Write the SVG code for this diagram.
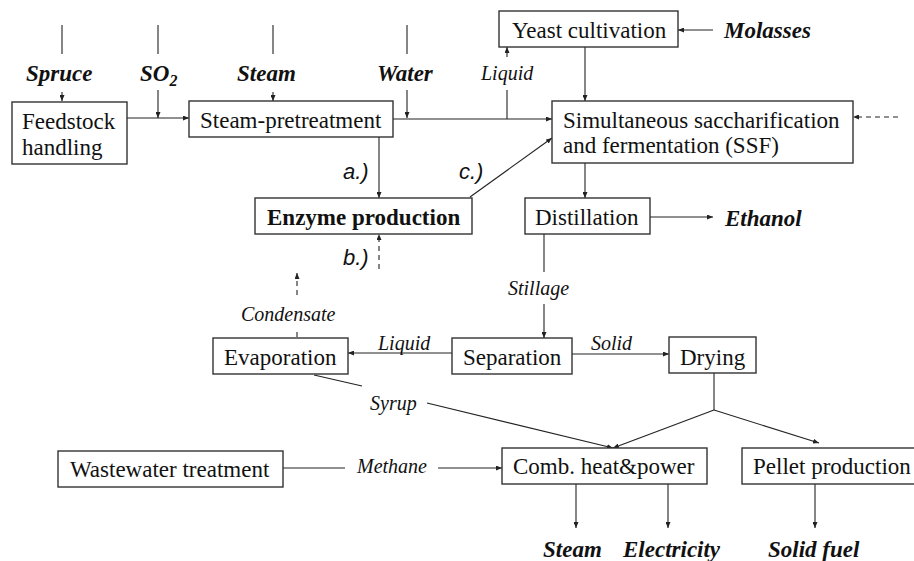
<svg xmlns="http://www.w3.org/2000/svg" width="914" height="561" viewBox="0 0 914 561">
<style>
.box{fill:#fff;stroke:#333;stroke-width:1.4}
.t{font-family:"Liberation Serif","Times New Roman",serif;font-size:23px;fill:#111}
.tb{font-family:"Liberation Serif","Times New Roman",serif;font-size:23px;font-weight:bold;fill:#111}
.bi{font-family:"Liberation Serif","Times New Roman",serif;font-size:23px;font-weight:bold;font-style:italic;fill:#111}
.it{font-family:"Liberation Serif","Times New Roman",serif;font-size:20px;font-style:italic;fill:#111}
.si{font-family:"Liberation Sans",Arial,sans-serif;font-size:22px;font-style:italic;fill:#111}
.c{fill:none;stroke:#222;stroke-width:1.1}
.a{marker-end:url(#ah)}
.d{stroke-dasharray:5,4}
</style>
<defs>
<marker id="ah" markerUnits="userSpaceOnUse" markerWidth="6" markerHeight="5" refX="6" refY="2.5" orient="auto">
<path d="M0,0 L6,2.5 L0,5 z" fill="#222"/>
</marker>
</defs>
<g id="connectors">
<line class="c" x1="62" y1="25" x2="62" y2="54"/>
<line class="c a" x1="62" y1="92" x2="62" y2="101"/>
<line class="c" x1="158" y1="25" x2="158" y2="54"/>
<line class="c a" x1="158" y1="90" x2="158" y2="118"/>
<line class="c a" x1="127" y1="118" x2="189" y2="118"/>
<line class="c" x1="273" y1="25" x2="273" y2="54"/>
<line class="c a" x1="273" y1="92" x2="273" y2="101"/>
<line class="c" x1="407" y1="25" x2="407" y2="54"/>
<line class="c a" x1="407" y1="90" x2="407" y2="118"/>
<line class="c a" x1="393" y1="119" x2="552" y2="119"/>
<line class="c" x1="507" y1="119" x2="507" y2="90"/>
<line class="c a" x1="507" y1="57" x2="507" y2="47"/>
<line class="c a" x1="713" y1="30" x2="678" y2="30"/>
<line class="c a" x1="585" y1="47" x2="585" y2="101"/>
<line class="c d a" x1="898" y1="117" x2="853" y2="117"/>
<line class="c a" x1="379" y1="137" x2="379" y2="198"/>
<line class="c a" x1="470" y1="197" x2="552" y2="138"/>
<line class="c d a" x1="379" y1="269" x2="379" y2="234"/>
<line class="c d a" x1="297" y1="295" x2="297" y2="273"/>
<line class="c d" x1="297" y1="332" x2="297" y2="338"/>
<line class="c a" x1="585" y1="163" x2="585" y2="198"/>
<line class="c a" x1="650" y1="217" x2="713" y2="217"/>
<line class="c" x1="544" y1="234" x2="544" y2="272"/>
<line class="c a" x1="544" y1="304" x2="544" y2="338"/>
<line class="c a" x1="452" y1="353" x2="348" y2="353"/>
<line class="c a" x1="572" y1="354" x2="669" y2="354"/>
<line class="c" x1="714" y1="373" x2="714" y2="410"/>
<line class="c a" x1="714" y1="410" x2="613" y2="448"/>
<line class="c a" x1="714" y1="410" x2="819" y2="443"/>
<line class="c" x1="314" y1="375" x2="362" y2="386"/>
<line class="c a" x1="427" y1="403" x2="613" y2="448"/>
<line class="c" x1="283" y1="468" x2="345" y2="468"/>
<line class="c a" x1="438" y1="468" x2="502" y2="468"/>
<line class="c a" x1="576" y1="484" x2="576" y2="528"/>
<line class="c a" x1="668" y1="484" x2="668" y2="528"/>
<line class="c a" x1="815" y1="484" x2="815" y2="528"/>
</g>
<g id="labels">
<text class="bi" x="26" y="81">Spruce</text>
<text class="bi" x="140" y="81">SO<tspan font-size="16" dy="5">2</tspan></text>
<text class="bi" x="237" y="81">Steam</text>
<text class="bi" x="377" y="81">Water</text>
<text class="it" x="481" y="80">Liquid</text>
<text class="bi" x="724" y="38">Molasses</text>
<text class="si" x="343" y="179">a.)</text>
<text class="si" x="459" y="179">c.)</text>
<text class="si" x="343" y="265">b.)</text>
<text class="it" x="241" y="321">Condensate</text>
<text class="bi" x="725" y="226">Ethanol</text>
<text class="it" x="508" y="295">Stillage</text>
<text class="it" x="378" y="350">Liquid</text>
<text class="it" x="591" y="350">Solid</text>
<text class="it" x="370" y="410">Syrup</text>
<text class="it" x="357" y="473">Methane</text>
<text class="bi" x="543" y="557">Steam</text>
<text class="bi" x="623" y="557">Electricity</text>
<text class="bi" x="768" y="557">Solid fuel</text>
</g>
<g id="feedstock"><rect class="box" x="12" y="102" width="115" height="62"/><text class="t" x="22" y="129">Feedstock</text><text class="t" x="22" y="155">handling</text></g>
<g id="pretreatment"><rect class="box" x="189" y="101" width="204" height="36"/><text class="t" x="200" y="128">Steam-pretreatment</text></g>
<g id="yeast"><rect class="box" x="499" y="11" width="179" height="36"/><text class="t" x="512" y="38">Yeast cultivation</text></g>
<g id="ssf"><rect class="box" x="552" y="101" width="301" height="62"/><text class="t" x="563" y="128">Simultaneous saccharification</text><text class="t" x="563" y="153">and fermentation (SSF)</text></g>
<g id="enzyme"><rect class="box" x="255" y="198" width="217" height="36"/><text class="tb" x="267" y="225">Enzyme production</text></g>
<g id="distillation"><rect class="box" x="525" y="198" width="125" height="36"/><text class="t" x="535" y="225">Distillation</text></g>
<g id="evaporation"><rect class="box" x="213" y="338" width="135" height="36"/><text class="t" x="224" y="365">Evaporation</text></g>
<g id="separation"><rect class="box" x="452" y="338" width="120" height="36"/><text class="t" x="463" y="365">Separation</text></g>
<g id="drying"><rect class="box" x="669" y="337" width="87" height="36"/><text class="t" x="680" y="365">Drying</text></g>
<g id="wastewater"><rect class="box" x="58" y="451" width="225" height="36"/><text class="t" x="70" y="477">Wastewater treatment</text></g>
<g id="chp"><rect class="box" x="502" y="448" width="205" height="36"/><text class="t" x="513" y="474">Comb. heat&amp;power</text></g>
<g id="pellet"><rect class="box" x="742" y="448" width="190" height="36"/><text class="t" x="753" y="474">Pellet production</text></g>
</svg>
